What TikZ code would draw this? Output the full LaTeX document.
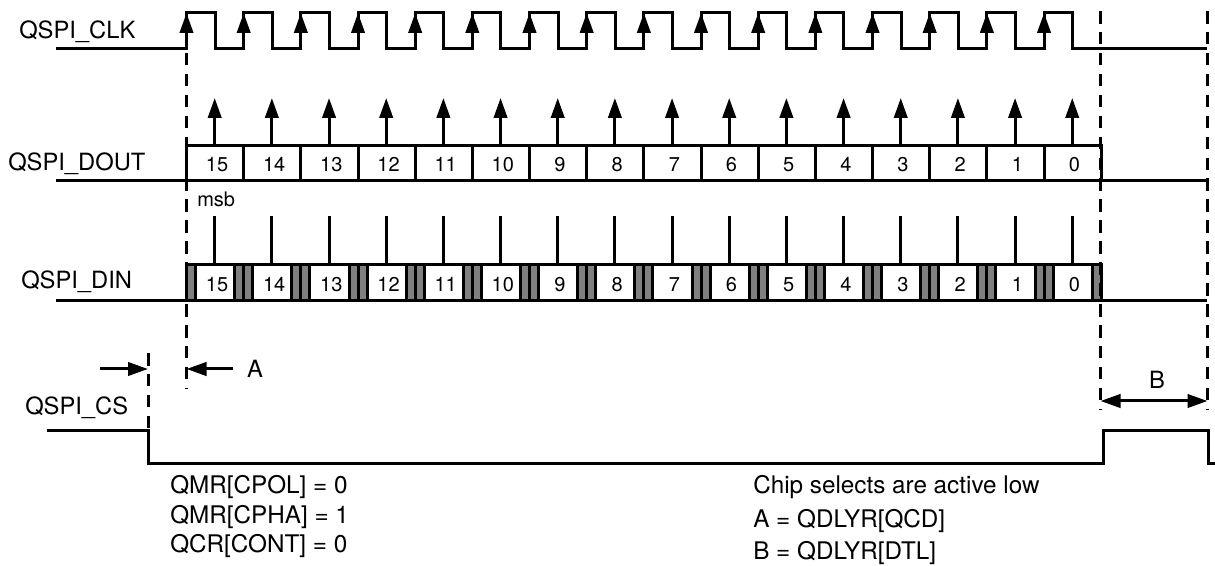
\documentclass[tikz,border=0pt]{standalone}
\usepackage{fontspec}
\setmainfont{TeX Gyre Heros}
\usetikzlibrary{arrows.meta}
\definecolor{shadegray}{RGB}{128,128,128}

\begin{document}
\begin{tikzpicture}[
    x=0.75pt, y=-0.75pt,
    wave/.style={line width=2.25pt},
    guide/.style={line width=2.25pt, dash pattern=on 9.4pt off 6.3pt},
    edgearrow/.style={line width=2.25pt, -{Triangle[length=15pt, width=10pt]}},
    spanarrow/.style={line width=2.25pt, {Triangle[length=15pt, width=10pt]}-{Triangle[length=15pt, width=10pt]}},
    siglabel/.style={font=\fontsize{17.8}{20}\selectfont, inner sep=0pt},
    bitlabel/.style={font=\fontsize{15}{16}\selectfont, inner sep=0pt},
    note/.style={font=\fontsize{18.2}{20}\selectfont, inner sep=0pt, anchor=west}
]
    \useasboundingbox (0,0) rectangle (1215,566);

    % signal names
    \node[siglabel, anchor=west] (clklabel) at (19,32) {QSPI\_CLK};
    \node[siglabel, anchor=west] (doutlabel) at (8,164) {QSPI\_DOUT};
    \node[siglabel, anchor=west] (dinlabel) at (21,282) {QSPI\_DIN};
    \node[siglabel, anchor=west] (cslabel) at (25,408) {QSPI\_CS};

    % clock
    \draw[wave] (56,49) -- (186.5,49);
    \foreach \k in {0,...,15} {
        \pgfmathsetmacro{\xr}{186.5+57.17*\k}
        \draw[wave, line cap=rect] (\xr,49) -- (\xr,13) -- (\xr+28.5,13) -- (\xr+28.5,49) -- (\xr+57.17,49);
        \draw[edgearrow] (\xr,49) -- (\xr,13);
    }
    \draw[wave] (1073,49) -- (1207,49);

    % data out
    \draw[wave] (56,181) -- (1207,181);
    \draw[wave] (186.5,145.5) -- (1101.5,145.5) -- (1101.5,181);
    \foreach \k [evaluate=\k as \bit using int(15-\k)] in {0,...,15} {
        \pgfmathsetmacro{\xr}{186.5+57.17*\k}
        \draw[wave] (\xr,145.5) -- (\xr,181);
        \draw[edgearrow] (\xr+28.2,145.5) -- (\xr+28.2,98);
        \node[bitlabel] (dout\bit) at (\xr+30.5,164.5) {\bit};
    }
    \node[bitlabel, anchor=west] (msblabel) at (197,199) {msb};

    % data in
    \foreach \k [evaluate=\k as \bit using int(15-\k)] in {0,...,15} {
        \pgfmathsetmacro{\xr}{186.5+57.17*\k}
        \ifnum\k>0
            \draw[wave, fill=shadegray] (\xr-9,265) rectangle (\xr,301);
        \fi
        \draw[wave, fill=shadegray] (\xr,265) rectangle (\xr+9,301);
        \draw[wave] (\xr+28.2,216) -- (\xr+28.2,265);
        \node[bitlabel] (din\bit) at (\xr+30.5,284.5) {\bit};
    }
    \draw[wave, fill=shadegray] (1092,265) rectangle (1101.5,301);
    \draw[wave] (186.5,265) -- (1101.5,265);
    \draw[wave] (56,301) -- (1207,301);

    % timing guides
    \draw[guide] (186.5,11) -- (186.5,388);
    \draw[guide] (148,353) -- (148,431);
    \draw[guide] (1100.5,11) -- (1100.5,410);
    \draw[guide] (1207.5,11) -- (1207.5,410);

    % delays
    \coordinate (aleft) at (100,369);
    \coordinate (atail) at (233,369);
    \draw[edgearrow] (aleft) -- (148,369);
    \draw[edgearrow] (atail) -- (186.5,369);
    \node[siglabel] (alabel) at (255,369) {A};
    \coordinate (bleft) at (1100.5,401);
    \coordinate (bright) at (1207.5,401);
    \draw[spanarrow] (bleft) -- (bright);
    \node[siglabel] (blabel) at (1157,380) {B};

    % chip select
    \draw[wave] (47,431) -- (148,431) -- (148,464) -- (1103.5,464) -- (1103.5,431) -- (1208.5,431) -- (1208.5,464) -- (1215,464);

    % notes
    \node[note] (cpol) at (170,487) {QMR[CPOL] = 0};
    \node[note] (cpha) at (170,517) {QMR[CPHA] = 1};
    \node[note] (cont) at (170,546) {QCR[CONT] = 0};
    \node[note] (active) at (753,487) {Chip selects are active low};
    \node[note] (qcd) at (753,521) {A = QDLYR[QCD]};
    \node[note] (dtl) at (753,553) {B = QDLYR[DTL]};
\end{tikzpicture}
\end{document}
